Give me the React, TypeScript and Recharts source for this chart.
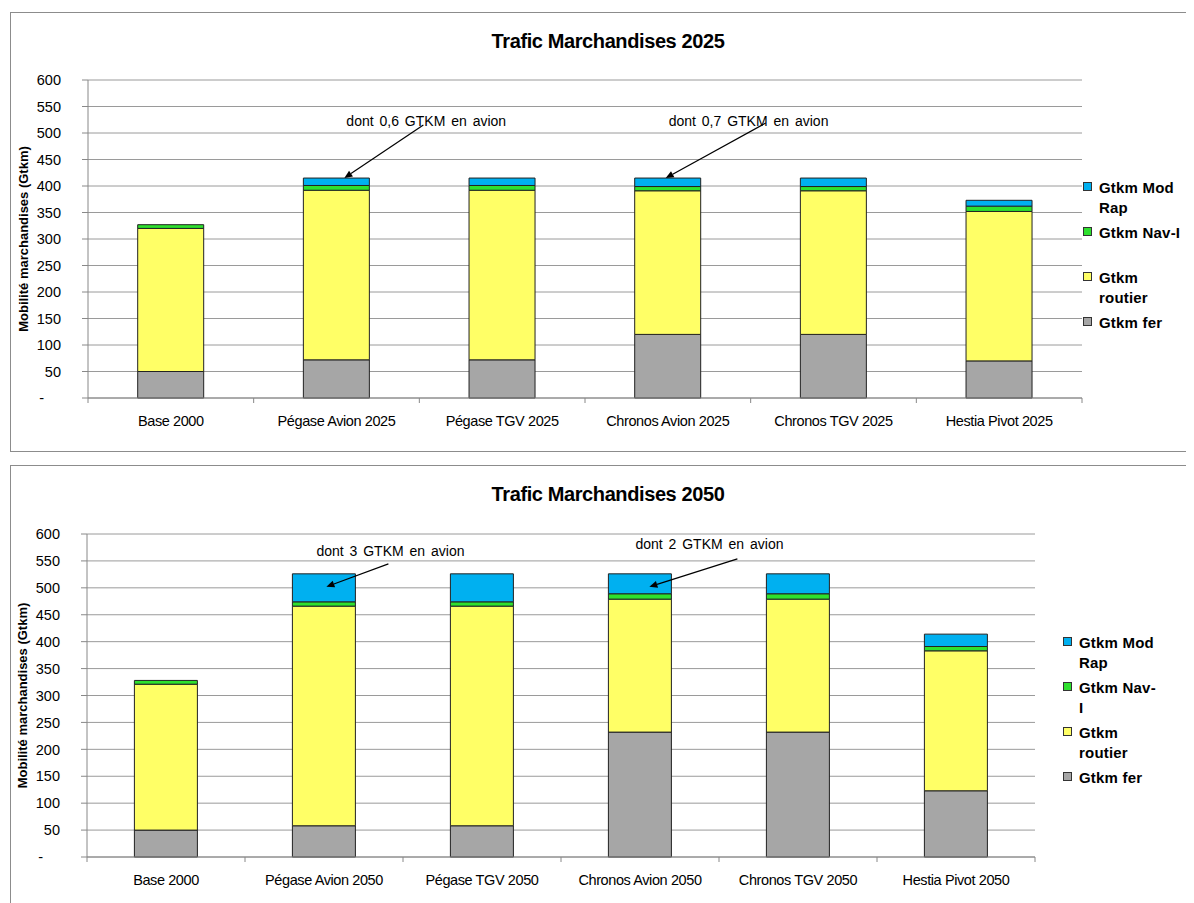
import React from "react";
import { BarChart, Bar, XAxis, YAxis, CartesianGrid, LabelList } from "recharts";

// Trafic marchandises, en Gtkm
const CATEGORIES_2025 = ["Base 2000", "Pégase Avion 2025", "Pégase TGV 2025", "Chronos Avion 2025", "Chronos TGV 2025", "Hestia Pivot 2025"];
const FER_2025 = [50, 72, 72, 120, 120, 70];
const ROUTIER_2025 = [270, 320, 320, 271, 271, 282];
const NAV_2025 = [7, 9, 9, 8, 8, 10];
const MODRAP_2025 = [0, 14, 14, 16, 16, 11];

const CATEGORIES_2050 = ["Base 2000", "Pégase Avion 2050", "Pégase TGV 2050", "Chronos Avion 2050", "Chronos TGV 2050", "Hestia Pivot 2050"];
const FER_2050 = [50, 58, 58, 232, 232, 123];
const ROUTIER_2050 = [271, 408, 408, 247, 247, 260];
const NAV_2050 = [7, 8, 8, 10, 10, 8];
const MODRAP_2050 = [0, 52, 52, 37, 37, 23];

const SERIES_KEYS = ["fer", "routier", "nav", "modrap"];
const SERIES_NAMES = ["Gtkm fer", "Gtkm routier", "Gtkm Nav-I", "Gtkm Mod Rap"];
const Y_TICKS = [0, 50, 100, 150, 200, 250, 300, 350, 400, 450, 500, 550, 600];

const COLORS = ["#A6A6A6", "#FFFF66", "#2EE02E", "#00B0F0"];
const FONT = '"Liberation Sans", Arial, sans-serif';
const CHART_W = 1180;
const CHART_H = 438;
const Y_AXIS_W = 60;

// annotations: offsets are relative to the top-left corner of the Mod Rap segment
const NOTES_2025 = [
  { category: "Pégase Avion 2025", text: "dont 0,6 GTKM en avion", tx: 43, ty: -52, fx: 120, fy: -53, px: 41, py: 0 },
  { category: "Chronos Avion 2025", text: "dont 0,7 GTKM en avion", tx: 34, ty: -52, fx: 131, fy: -55, px: 31, py: 0 },
];
const NOTES_2050 = [
  { category: "Pégase Avion 2050", text: "dont 3 GTKM en avion", tx: 24, ty: -18, fx: 96, fy: -10, px: 34, py: 13 },
  { category: "Chronos Avion 2050", text: "dont 2 GTKM en avion", tx: 27, ty: -25, fx: 129, fy: -15, px: 41, py: 13 },
];

type Note = (typeof NOTES_2025)[number];

function YTick(props: any) {
  const { x, y, payload } = props;
  const zero = payload.value === 0;
  return (
    <text x={zero ? x - 17 : x} y={y} dy="0.36em" textAnchor="end" fontSize={14.5} fontFamily={FONT} fill="#000">
      {zero ? "-" : payload.value}
    </text>
  );
}

function makeXTick(band: number, count: number) {
  return (props: any) => {
    const { x, y, payload, index } = props;
    return (
      <g>
        <line x1={x - band / 2} x2={x - band / 2} y1={y} y2={y + 5} stroke="#888" />
        {index === count - 1 && <line x1={x + band / 2} x2={x + band / 2} y1={y} y2={y + 5} stroke="#888" />}
        <text x={x} y={y + 28} textAnchor="middle" fontSize={14.5} letterSpacing={-0.4} fontFamily={FONT} fill="#000">
          {payload.value}
        </text>
      </g>
    );
  };
}

// the segment's category is found from its position in the band scale
function makeNote(categories: string[], notes: Note[], plotLeft: number, band: number) {
  return (props: any) => {
    const bx = Number(props.x);
    const by = Number(props.y);
    const w = Number(props.width) || 0;
    const idx = Math.floor((bx + w / 2 - plotLeft) / band);
    const note = notes.find((n) => n.category === categories[idx]);
    if (!note) return null;
    const x1 = bx + note.fx, y1 = by + note.fy;
    const x2 = bx + note.px, y2 = by + note.py;
    const a = Math.atan2(y2 - y1, x2 - x1);
    const L = 8, W = 3.5;
    const hx = x2 - L * Math.cos(a), hy = y2 - L * Math.sin(a);
    const pts = `${x2},${y2} ${hx - W * Math.sin(a)},${hy + W * Math.cos(a)} ${hx + W * Math.sin(a)},${hy - W * Math.cos(a)}`;
    return (
      <g>
        <text x={bx + note.tx} y={by + note.ty} fontSize={14} wordSpacing={2} fontFamily={FONT} fill="#000">
          {note.text}
        </text>
        <line x1={x1} y1={y1} x2={hx} y2={hy} stroke="#000" strokeWidth={1.2} />
        <polygon points={pts} fill="#000" />
      </g>
    );
  };
}

interface PanelProps {
  top: number;
  title: string;
  categories: string[];
  fer: number[];
  routier: number[];
  nav: number[];
  modrap: number[];
  notes: Note[];
  marginLeft: number;
  marginRight: number;
  marginTop: number;
  marginBottom: number;
  legendLines: string[][];
  legendLeft: number;
  legendTop: number;
}

function Panel(p: PanelProps) {
  const data = p.categories.map((c, i) => ({
    name: c,
    fer: p.fer[i],
    routier: p.routier[i],
    nav: p.nav[i],
    modrap: p.modrap[i],
  }));
  const plotLeft = p.marginLeft + Y_AXIS_W;
  const plotW = CHART_W - plotLeft - p.marginRight;
  const band = plotW / p.categories.length;

  return (
    <div
      style={{
        position: "absolute",
        left: 2,
        top: p.top,
        width: CHART_W,
        height: CHART_H,
        border: "1px solid #8c8c8c",
        background: "#fff",
      }}
    >
      <div
        style={{
          position: "absolute",
          left: 597,
          top: 18,
          transform: "translateX(-50%)",
          whiteSpace: "nowrap",
          fontFamily: FONT,
          fontWeight: "bold",
          fontSize: 20,
          lineHeight: "20px",
          letterSpacing: -0.4,
        }}
      >
        {p.title}
      </div>
      <BarChart
        width={CHART_W}
        height={CHART_H}
        data={data}
        barCategoryGap="30%"
        margin={{ top: p.marginTop, right: p.marginRight, left: p.marginLeft, bottom: p.marginBottom }}
      >
        <CartesianGrid vertical={false} stroke="#9a9a9a" />
        <XAxis
          dataKey="name"
          interval={0}
          height={30}
          tickSize={0}
          tickMargin={0}
          tickLine={false}
          axisLine={{ stroke: "#888" }}
          tick={makeXTick(band, p.categories.length)}
        />
        <YAxis
          width={Y_AXIS_W}
          domain={[0, 600]}
          ticks={Y_TICKS}
          interval={0}
          tickSize={6}
          tickMargin={21}
          axisLine={{ stroke: "#888" }}
          tickLine={{ stroke: "#888" }}
          tick={<YTick />}
          label={{
            content: (lp: any) => {
              const vb = lp.viewBox || {};
              const cx = vb.x - 5;
              const cy = vb.y + vb.height / 2;
              return (
                <text
                  x={cx}
                  y={cy}
                  transform={`rotate(-90 ${cx} ${cy})`}
                  textAnchor="middle"
                  dominantBaseline="central"
                  fontSize={13}
                  fontWeight="bold"
                  fontFamily={FONT}
                  fill="#000"
                >
                  Mobilité marchandises (Gtkm)
                </text>
              );
            },
          }}
        />
        {SERIES_KEYS.map((k, i) => (
          <Bar
            key={k}
            dataKey={k}
            name={SERIES_NAMES[i]}
            stackId="a"
            fill={COLORS[i]}
            stroke="#222"
            strokeWidth={1}
            isAnimationActive={false}
          >
            {k === "modrap" && (
              <LabelList dataKey="modrap" content={makeNote(p.categories, p.notes, plotLeft, band)} />
            )}
          </Bar>
        ))}
      </BarChart>
      {p.legendLines.map((lines, j) => {
        const si = SERIES_KEYS.length - 1 - j;
        return (
          <div
            key={j}
            style={{
              position: "absolute",
              left: p.legendLeft,
              top: p.legendTop + j * 45,
              display: "flex",
              alignItems: "flex-start",
              fontFamily: FONT,
              fontWeight: "bold",
              fontSize: 15,
              lineHeight: "20px",
              letterSpacing: 0.2,
              whiteSpace: "nowrap",
            }}
          >
            <div
              style={{
                width: 7,
                height: 7,
                marginTop: 4,
                marginRight: 7,
                background: COLORS[si],
                border: "1px solid #333",
              }}
            />
            <div>
              {lines.map((l, li) => (
                <div key={li}>{l}</div>
              ))}
            </div>
          </div>
        );
      })}
    </div>
  );
}

export default function App() {
  return (
    <div style={{ position: "relative", width: 1186, height: 895 }}>
      <Panel
        top={4}
        title="Trafic Marchandises 2025"
        categories={CATEGORIES_2025}
        fer={FER_2025}
        routier={ROUTIER_2025}
        nav={NAV_2025}
        modrap={MODRAP_2025}
        notes={NOTES_2025}
        marginLeft={17}
        marginRight={109}
        marginTop={67}
        marginBottom={23}
        legendLines={[["Gtkm Mod", "Rap"], ["Gtkm Nav-I"], ["Gtkm", "routier"], ["Gtkm fer"]]}
        legendLeft={1072}
        legendTop={165}
      />
      <Panel
        top={457}
        title="Trafic Marchandises 2050"
        categories={CATEGORIES_2050}
        fer={FER_2050}
        routier={ROUTIER_2050}
        nav={NAV_2050}
        modrap={MODRAP_2050}
        notes={NOTES_2050}
        marginLeft={16}
        marginRight={156}
        marginTop={68}
        marginBottom={17}
        legendLines={[["Gtkm Mod", "Rap"], ["Gtkm Nav-", "I"], ["Gtkm", "routier"], ["Gtkm fer"]]}
        legendLeft={1052}
        legendTop={167}
      />
    </div>
  );
}
